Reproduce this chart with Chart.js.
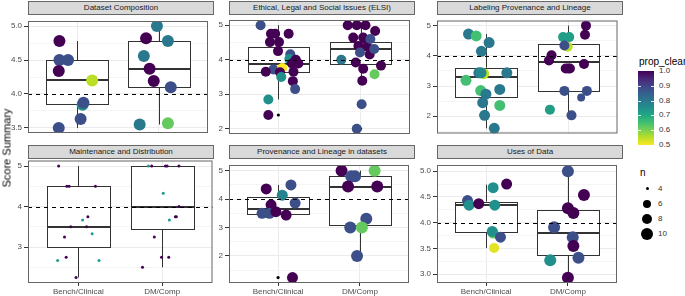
<!DOCTYPE html>
<html>
<head>
<meta charset="utf-8">
<script src="https://cdn.jsdelivr.net/npm/chart.js@4.4.1/dist/chart.umd.min.js"></script>
<style>
  html, body { margin:0; padding:0; background:#fff; }
  body { width:685px; height:296px; position:relative; overflow:hidden; font-family:"Liberation Sans", Arial, sans-serif; }
  .abs { position:absolute; }
  .strip { position:absolute; box-sizing:border-box; background:#D9D9D9; border:1px solid #666; color:#1A1A1A; font-size:8px; text-align:center; line-height:12px; white-space:nowrap; }
  canvas { position:absolute; }
  .lg { position:absolute; color:#222; white-space:nowrap; }
</style>
</head>
<body>
<script>
// ---------------- DATA ----------------
const categories = ['Bench/Clinical', 'DM/Comp'];
const facetTitles = ['Dataset Composition', 'Ethical, Legal and Social Issues (ELSI)', 'Labeling Provenance and Lineage',
                     'Maintenance and Distribution', 'Provenance and Lineage in datasets', 'Uses of Data'];
const yTickLabels = [
  ['3.5','4.0','4.5','5.0'],
  ['2','3','4','5'],
  ['2','3','4','5'],
  ['3','4','5'],
  ['2','3','4','5'],
  ['3.0','3.5','4.0','4.5','5.0']
];
const yLimits = [[3.425,5.075],[1.85,5.15],[1.43,5.17],[2.1125,5.1375],[1.05,5.2],[2.83,5.12]];
const referenceScore = 4;
// box stats per group: [lower whisker, Q1, median, Q3, upper whisker]
const boxComposition = [[3.50,3.856,4.207,4.50,4.78],[3.55,4.10,4.366,4.776,5.0]];
const boxElsi        = [[2.85,3.636,3.89,4.377,5.0],[3.39,3.875,4.297,4.525,5.0]];
const boxLabeling    = [[1.60,2.64,3.29,3.61,4.72],[2.03,2.84,3.79,4.40,5.0]];
const boxMaintenance = [[2.25,3.0,3.5,4.5,5.0],[2.5,3.45,4.0,5.0,5.0]];
const boxProvenance  = [[3.44,3.49,3.67,4.08,4.5],[2.0,3.09,4.44,4.8,5.0]];
const boxUses         = [[3.51,3.82,4.34,4.41,4.74],[2.93,3.37,3.81,4.25,5.0]];
const outlierComposition = [[],[]];
const outlierElsi        = [[2.40],[2.71,2.0]];
const outlierLabeling    = [[],[]];
const outlierMaintenance = [[],[]];
const outlierProvenance  = [[1.24],[]];
const outlierUses        = [[],[]];
// points: [group index, jitter (category units), score, prop_clear, n]
const ptsComposition = [
  [0,-0.216,4.78,1.0,10],[0,-0.216,4.50,0.88,10],[0,-0.110,4.50,0.88,10],[0,-0.224,4.34,1.0,10],
  [0,0.184,4.20,0.55,10],[0,0.067,3.84,0.75,10],[0,0.078,3.87,0.88,10],[0,0.043,3.63,0.88,10],[0,-0.224,3.50,0.88,10],
  [1,-0.024,5.00,0.80,10],[1,-0.157,4.82,1.0,10],[1,0.110,4.78,0.80,10],[1,-0.184,4.56,0.80,10],[1,-0.114,4.37,1.0,10],
  [1,-0.063,4.19,1.0,10],[1,0.145,4.10,0.88,10],[1,-0.235,3.55,0.80,10],[1,0.110,3.57,0.62,10]
];
const ptsElsi = [
  [0,-0.216,5.00,0.88,8],[0,-0.090,4.75,1,8],[0,-0.039,4.75,1,8],[0,0.125,4.75,1,8],[0,-0.102,4.51,1,8],
  [0,0.008,4.51,1,8],[0,-0.004,4.25,1,8],[0,0.145,4.16,0.88,8],[0,0.133,4.02,0.75,8],[0,0.212,4.00,1,8],
  [0,0.165,3.89,1,8],[0,0.243,3.89,1,8],[0,-0.059,3.72,0.88,8],[0,0.047,3.76,0.5,8],[0,-0.153,3.65,1,8],
  [0,0.020,3.64,1,8],[0,0.184,3.65,1,8],[0,0.035,3.50,0.75,8],[0,0.176,3.38,1,8],[0,0.204,3.15,0.88,8],
  [0,-0.122,2.85,0.75,8],[0,-0.122,2.40,1,8],
  [1,-0.157,5.00,1,8],[1,-0.047,5.00,1,8],[1,0.059,5.00,1,8],[1,0.176,4.83,1,8],[1,-0.090,4.64,1,8],
  [1,0.031,4.64,1,8],[1,-0.027,4.40,1,8],[1,0.078,4.38,1,8],[1,0.110,4.15,1,8],[1,0.118,4.60,0.88,8],
  [1,0.165,4.31,0.88,8],[1,-0.008,4.21,0.88,8],[1,-0.235,4.00,0.8,8],[1,-0.059,3.92,1,8],[1,0.247,3.83,1,8],
  [1,0.031,3.74,1,8],[1,0.169,3.58,0.62,8],[1,0.020,3.39,1,8],[1,0.012,2.71,0.88,8],[1,-0.047,2.00,0.88,8]
];
const ptsLabeling = [
  [0,-0.216,4.72,0.8,9],[0,-0.122,4.66,0.65,9],[0,0.035,4.44,0.8,9],[0,-0.059,4.15,0.8,9],[0,-0.031,3.41,0.55,9],
  [0,-0.090,3.44,0.8,9],[0,-0.063,3.44,0.77,9],[0,0.251,3.44,0.8,9],[0,-0.247,3.19,0.65,9],[0,-0.067,2.85,0.65,9],
  [0,0.165,2.89,0.8,9],[0,-0.004,2.73,0.8,9],[0,-0.043,2.45,0.8,9],[0,0.165,2.36,0.65,9],[0,-0.020,2.03,0.8,9],
  [0,0.098,1.60,0.8,9],
  [1,0.216,5.00,1,8],[1,0.204,4.70,1,8],[1,-0.063,4.62,0.72,8],[1,0.012,4.62,0.72,8],[1,-0.008,4.30,0.55,8],
  [1,-0.047,4.34,0.88,8],[1,-0.204,4.02,1,8],[1,-0.235,3.85,1,8],[1,0.192,3.73,1,8],[1,-0.031,3.58,1,8],
  [1,0.000,3.58,1,8],[1,0.020,3.58,1,8],[1,-0.047,2.84,0.88,8],[1,0.227,2.84,0.88,8],[1,0.157,2.62,0.88,6],
  [1,-0.224,2.22,0.72,8],[1,0.039,2.03,0.88,8]
];
const ptsMaintenance = [
  [0,-0.235,5.00,1,4],[0,-0.137,4.50,1,4],[0,-0.110,4.50,1,4],[0,0.204,4.50,1,4],[0,0.114,3.75,1,4],
  [0,0.051,3.67,0.73,4],[0,-0.090,3.50,1,4],[0,0.098,3.50,1,4],[0,0.165,3.33,0.73,4],[0,-0.165,3.25,1,4],
  [0,-0.145,2.75,1,4],[0,-0.247,2.67,0.73,4],[0,0.247,2.67,0.73,4],[0,-0.027,2.25,1,4],
  [1,-0.165,5.00,0.73,4],[1,-0.125,5.00,1,4],[1,0.039,5.00,1,4],[1,0.059,5.00,1,4],[1,0.200,5.00,1,4],
  [1,0.012,4.33,0.73,4],[1,0.200,4.00,1,4],[1,0.157,3.75,1,4],[1,0.169,3.75,1,4],[1,0.086,3.67,0.73,4],
  [1,-0.094,3.25,1,4],[1,-0.008,2.75,1,4],[1,0.078,2.75,1,4],[1,-0.235,2.50,1,4]
];
const ptsProvenance = [
  [0,-0.145,4.36,1,9],[0,0.157,4.50,0.88,9],[0,0.051,4.14,0.78,9],[0,0.208,3.86,0.88,9],[0,-0.086,3.80,1,9],
  [0,-0.196,3.50,0.88,9],[0,-0.106,3.50,0.88,9],[0,-0.027,3.56,1,9],[0,0.098,3.44,1,9],[0,0.176,1.24,1,9],
  [1,-0.224,5.00,1,10],[1,0.180,5.00,0.62,10],[1,-0.106,4.80,0.88,10],[1,-0.059,4.80,0.88,10],[1,-0.145,4.44,1,10],
  [1,0.212,4.44,1,10],[1,0.078,3.31,0.88,10],[1,-0.118,3.00,0.88,10],[1,0.024,3.00,0.62,10],[1,-0.035,2.00,0.88,10]
];
const ptsUses = [
  [0,0.251,4.75,1,9],[0,0.086,4.68,0.75,9],[0,-0.227,4.43,0.88,9],[0,-0.208,4.34,0.75,9],[0,-0.090,4.37,1,9],
  [0,0.106,4.34,0.75,9],[0,0.086,3.80,0.62,9],[0,0.075,3.83,0.75,9],[0,0.176,3.72,0.88,9],[0,0.098,3.51,0.52,8],
  [1,0.000,5.00,0.88,10],[1,0.196,4.54,1,10],[1,0.000,4.28,1,10],[1,0.067,4.19,1,10],[1,-0.169,3.91,0.88,10],
  [1,0.059,3.72,0.88,10],[1,0.067,3.55,1,10],[1,0.129,3.32,0.88,10],[1,-0.216,3.27,0.75,10],[1,0.000,2.93,1,10]
];
const colorbarLabels = ['1.0','0.9','0.8','0.7','0.6','0.5'];
const sizeLegendN = [4, 6, 8, 10];

const allPoints = [ptsComposition, ptsElsi, ptsLabeling, ptsMaintenance, ptsProvenance, ptsUses];
const allBoxes = [boxComposition, boxElsi, boxLabeling, boxMaintenance, boxProvenance, boxUses];
const allOutliers = [outlierComposition, outlierElsi, outlierLabeling, outlierMaintenance, outlierProvenance, outlierUses];

// ---------------- STYLE ----------------
const FONT = '"Liberation Sans", Arial, sans-serif';
Chart.defaults.font.family = FONT;
const VIRIDIS = ['#440154','#482576','#414487','#35608D','#2A788E','#21908C','#22A884','#43BF71','#7AD151','#BBDF27','#FDE725'];
function hex2rgb(h){ return [parseInt(h.slice(1,3),16),parseInt(h.slice(3,5),16),parseInt(h.slice(5,7),16)]; }
function viridisColor(pc){
  let t = (1 - pc) / 0.5; t = Math.max(0, Math.min(1, t));
  const p = t * 10, i = Math.min(9, Math.floor(p)), f = p - i;
  const a = hex2rgb(VIRIDIS[i]), b = hex2rgb(VIRIDIS[i+1]);
  const c = a.map((v,k)=>Math.round(v + (b[k]-v)*f));
  return `rgb(${c[0]},${c[1]},${c[2]})`;
}
const SIZE_KEYS = [[4,1.5],[6,4],[8,5],[10,6],[12,7]];
function radiusFor(n){
  for (let k=0;k<SIZE_KEYS.length-1;k++){
    const [n0,r0]=SIZE_KEYS[k],[n1,r1]=SIZE_KEYS[k+1];
    if (n<=n1) return r0 + (r1-r0)*(n-n0)/(n1-n0);
  }
  return SIZE_KEYS[SIZE_KEYS.length-1][1];
}

const colLeft = [28, 229, 437];
const rowTop = [15, 159];
const stripTop = [1, 145];
const plotW = 186, plotH = 124, axisW = 27, xAxisH = 14;

function decoPlugin(boxes, outliers){
  return {
    id: 'deco',
    beforeDatasetsDraw(chart){
      const {ctx, chartArea:a, scales:{x,y}} = chart;
      ctx.save();
      ctx.beginPath(); ctx.rect(a.left,a.top,a.right-a.left,a.bottom-a.top); ctx.clip();
      boxes.forEach((b,g)=>{
        const cx = x.getPixelForValue(g+1);
        const hw = x.getPixelForValue(g+1+0.375) - cx;
        const L = Math.round(cx-hw)+0.5, R = Math.round(cx+hw)+0.5, C = Math.round(cx)+0.5;
        const [lo,q1,med,q3,hi] = b.map(v=>y.getPixelForValue(v));
        ctx.strokeStyle='#333'; ctx.lineWidth=1;
        ctx.beginPath(); ctx.moveTo(C,q3); ctx.lineTo(C,hi); ctx.moveTo(C,q1); ctx.lineTo(C,lo); ctx.stroke();
        const t = Math.round(q3)+0.5, bt = Math.round(q1)+0.5;
        ctx.fillStyle='#fff'; ctx.fillRect(L,t,R-L,bt-t);
        ctx.strokeRect(L,t,R-L,bt-t);
        ctx.lineWidth=2; ctx.beginPath(); ctx.moveTo(L,Math.round(med)); ctx.lineTo(R,Math.round(med)); ctx.stroke();
        ctx.fillStyle='#000';
        outliers[g].forEach(v=>{ ctx.beginPath(); ctx.arc(cx,y.getPixelForValue(v),1.6,0,Math.PI*2); ctx.fill(); });
      });
      ctx.restore();
    },
    afterDatasetsDraw(chart){
      const {ctx, chartArea:a, scales:{y}} = chart;
      ctx.save();
      const yy = Math.round(y.getPixelForValue(referenceScore))+0.5;
      ctx.strokeStyle='#000'; ctx.lineWidth=1; ctx.setLineDash([4,4]);
      ctx.beginPath(); ctx.moveTo(a.left,yy); ctx.lineTo(a.right,yy); ctx.stroke();
      ctx.setLineDash([]);
      ctx.strokeStyle='#666';
      ctx.strokeRect(a.left+0.5,a.top+0.5,a.right-a.left-1,a.bottom-a.top-1);
      ctx.restore();
    }
  };
}

function makePanel(i){
  const r = Math.floor(i/3), c = i%3, bottom = r===1;
  const strip = document.createElement('div');
  strip.className='strip';
  Object.assign(strip.style,{left:colLeft[c]+'px',top:stripTop[r]+'px',width:plotW+'px',height:'14px'});
  strip.textContent = facetTitles[i];
  document.body.appendChild(strip);

  const W = axisW + plotW, H = plotH + (bottom ? xAxisH : 0);
  const cv = document.createElement('canvas');
  cv.width = W; cv.height = H;
  Object.assign(cv.style,{left:(colLeft[c]-axisW)+'px',top:rowTop[r]+'px',width:W+'px',height:H+'px'});
  document.body.appendChild(cv);

  const majors = yTickLabels[i].map(parseFloat);
  const step = majors[1]-majors[0];
  const [ymin,ymax] = yLimits[i];
  const tickVals = [];
  for (let v = majors[0]-step/2; v <= majors[majors.length-1]+step/2+1e-9; v += step/2){
    const vv = Math.round(v*1000)/1000;
    if (vv>=ymin && vv<=ymax) tickVals.push(vv);
  }
  const isMajor = v => majors.some(m=>Math.abs(m-v)<1e-6);
  const labelFor = v => { const k = majors.findIndex(m=>Math.abs(m-v)<1e-6); return k>=0 ? yTickLabels[i][k] : ''; };

  const pts = allPoints[i];
  new Chart(cv.getContext('2d'), {
    type:'scatter',
    data:{ datasets:[{
      data: pts.map(p=>({x: p[0]+1+p[1], y: p[2]})),
      pointRadius: ctx => radiusFor(pts[ctx.dataIndex][4]),
      pointBackgroundColor: ctx => viridisColor(pts[ctx.dataIndex][3]),
      pointBorderWidth: 0,
      pointHoverRadius: ctx => radiusFor(pts[ctx.dataIndex][4]),
      clip: 0
    }]},
    options:{
      responsive:false, animation:false, devicePixelRatio:1,
      events: [],
      layout:{padding:0},
      plugins:{ legend:{display:false}, tooltip:{enabled:false} },
      scales:{
        x:{
          type:'linear', min:0.4, max:2.6,
          afterBuildTicks: s => { s.ticks = [{value:1},{value:2}]; },
          ticks:{ display:bottom, autoSkip:false, maxRotation:0, padding:1, color:'#4D4D4D', font:{size:8, family:FONT},
                  callback: v => categories[Math.round(v)-1] },
          grid:{ color:'#EBEBEB', lineWidth:1, drawTicks:bottom, tickLength:3, tickColor:'#333', tickWidth:1 },
          border:{ display:false },
          afterFit: s => { s.height = bottom ? xAxisH : 0; s.paddingLeft=0; s.paddingRight=0; }
        },
        y:{
          type:'linear', min:ymin, max:ymax,
          afterBuildTicks: s => { s.ticks = tickVals.map(v=>({value:v})); },
          ticks:{ autoSkip:false, padding:2, color:'#4D4D4D', font:{size:8, family:FONT}, callback: v => labelFor(v) },
          grid:{ color: cx => (cx.tick && isMajor(cx.tick.value)) ? '#EBEBEB' : '#F5F5F5', lineWidth:1,
                 tickLength:4, tickWidth:1, tickColor: cx => (cx.tick && isMajor(cx.tick.value)) ? '#333' : 'rgba(0,0,0,0)' },
          border:{ display:false },
          afterFit: s => { s.width = axisW; s.paddingTop=0; s.paddingBottom=0; }
        }
      }
    },
    plugins:[decoPlugin(allBoxes[i], allOutliers[i])]
  });
}
for (let i=0;i<6;i++) makePanel(i);

// Y axis title
const yt = document.createElement('div');
yt.className='lg';
yt.textContent='Score Summary';
Object.assign(yt.style,{left:'7px',top:'148px',fontSize:'11px',color:'#000',transform:'translate(-50%,-50%) rotate(-90deg)',lineHeight:'11px'});
document.body.appendChild(yt);

// colour bar legend
function addText(txt, left, top, size, color){
  const d = document.createElement('div'); d.className='lg'; d.textContent = txt;
  Object.assign(d.style,{left:left+'px',top:top+'px',fontSize:size+'px',color:color,lineHeight:size+'px'});
  document.body.appendChild(d); return d;
}
addText('prop_clear', 639, 57, 10, '#000');
const bar = document.createElement('div');
const barTop = 71, barH = 74, barLeft = 638, barW = 16;
Object.assign(bar.style,{position:'absolute',left:barLeft+'px',top:barTop+'px',width:barW+'px',height:barH+'px',
  background:'linear-gradient(to bottom,'+VIRIDIS.join(',')+')'});
document.body.appendChild(bar);
colorbarLabels.forEach((lab,k)=>{
  const yy = barTop + k*barH/(colorbarLabels.length-1);
  addText(lab, 659, yy-4, 8, '#333');
  if (k>0 && k<colorbarLabels.length-1){
    [barLeft, barLeft+barW-3].forEach(xx=>{
      const t = document.createElement('div');
      Object.assign(t.style,{position:'absolute',left:xx+'px',top:(Math.round(yy))+'px',width:'3px',height:'1px',background:'rgba(255,255,255,0.85)'});
      document.body.appendChild(t);
    });
  }
});
// size legend
addText('n', 640, 168, 10, '#000');
sizeLegendN.forEach((n,k)=>{
  const cy = 188.5 + k*15, r = radiusFor(n);
  const d = document.createElement('div');
  Object.assign(d.style,{position:'absolute',left:(647-r)+'px',top:(cy-r)+'px',width:(2*r)+'px',height:(2*r)+'px',borderRadius:'50%',background:'#000'});
  document.body.appendChild(d);
  addText(String(n), 658, cy-4, 8, '#333');
});
</script>
</body>
</html>
